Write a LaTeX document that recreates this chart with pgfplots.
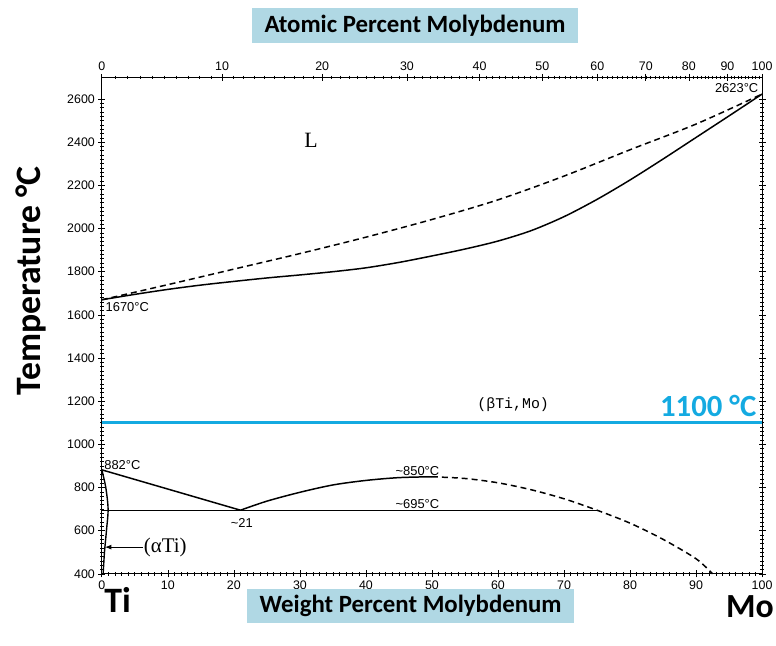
\documentclass[border=0pt]{standalone}
\usepackage{pgfplots}
\pgfplotsset{compat=1.18}
\usepackage{fontspec}
\setmainfont{Liberation Sans}
\newfontfamily\calib{Carlito}
\newfontfamily\serifm{Liberation Serif}
\newfontfamily\monof{Liberation Mono}
\usetikzlibrary{arrows.meta}
\definecolor{hl}{RGB}{20,170,225}
\definecolor{boxb}{RGB}{176,216,228}
\begin{document}
\xdef\atminor{0}
\foreach \a in {1,...,99}{\pgfmathparse{2.0044*\a/(1+0.010044*\a)}\xdef\atminor{\atminor,\pgfmathresult}}
\begin{tikzpicture}
\begin{axis}[name=main, scale only axis, width=665pt, height=500pt,
  xmin=0, xmax=100, ymin=400, ymax=2700,
  xtick={0,10,...,100}, ytick={400,600,...,2600},
  minor x tick num=9, minor y tick num=9,
  xtick pos=bottom, ytick pos=both, yticklabel pos=left,
  tick align=center, major tick length=7pt, minor tick length=3.5pt,
  axis line style={line width=1.2pt},
  every tick/.style={black, line width=0.7pt},
  ticklabel style={font=\fontsize{12.5}{13}\selectfont},
  /pgf/number format/assume math mode=true,
  /pgf/number format/1000 sep={},
  clip=false]
% liquidus (dashed)
\addplot[black, line width=1.5pt, dash pattern=on 6pt off 4pt, smooth] coordinates {
 (0,1670)(10,1740)(20,1812)(30,1884)(40,1960)(50,2042)(60,2133)(70,2243)(80,2365)(90,2484)(100,2623)};
% solidus
\addplot[black, line width=1.5pt, smooth] coordinates {
 (0,1670)(5,1695)(10,1718)(15,1738)(20,1755)(25,1771)(30,1785)(35,1800)(40,1818)(45,1843)(50,1873)(55,1905)(60,1942)(65,1990)(70,2055)(75,2135)(80,2225)(85,2322)(90,2422)(95,2522)(100,2623)};
% 1100 line
\addplot[hl, line width=3pt] coordinates {(0,1100)(100,1100)};
% beta transus
\addplot[black, line width=1.5pt] coordinates {(0,882)(10,793)(21,695)};
% miscibility gap solid
\addplot[black, line width=1.5pt, smooth] coordinates {
 (21,695)(25,737)(30,778)(35,812)(40,833)(45,846)(50,850)};
% miscibility gap dashed
\addplot[black, line width=1.5pt, dash pattern=on 6pt off 4pt, smooth] coordinates {
 (50,850)(55,842)(60,822)(65,790)(70,748)(75,695)(80,635)(85,560)(90,470)(92.5,400)};
% monotectoid horizontal
\addplot[black, line width=1.2pt] coordinates {(0,695)(75,695)};
% alpha solvus
\addplot[black, line width=1.4pt, smooth] coordinates {
 (0,882)(0.6,800)(0.95,700)(0.7,600)(0.4,500)(0.2,400)};
% arrow
\addplot[black, line width=1.2pt, -{Latex[length=7pt,width=5pt]}] coordinates {(6.2,524)(0.4,524)};
\node[anchor=west, inner sep=1pt, font=\serifm\fontsize{21}{24}\selectfont] at (axis cs:6.2,524) {(αTi)};
\node[font=\serifm\fontsize{22}{24}\selectfont] at (axis cs:31.7,2409) {L};
\node[font=\monof\fontsize{15}{16}\selectfont] at (axis cs:62.3,1183) {(βTi,Mo)};
\node[anchor=east, inner sep=1pt, text=hl, font=\calib\bfseries\fontsize{31}{34}\selectfont] at (axis cs:99.3,1176) {1100 °C};
\node[anchor=west, inner sep=1pt, font=\fontsize{13}{14}\selectfont] at (axis cs:0.4,1638) {1670°C};
\node[anchor=east, inner sep=1pt, font=\fontsize{13}{14}\selectfont] at (axis cs:99.6,2652) {2623°C};
\node[anchor=west, inner sep=1pt, font=\fontsize{13}{14}\selectfont] at (axis cs:0.2,905) {882°C};
\node[font=\fontsize{13}{14}\selectfont] at (axis cs:21.2,638) {\textasciitilde 21};
\node[anchor=south, inner sep=1pt, font=\fontsize{13}{14}\selectfont] at (axis cs:47.8,850) {\textasciitilde 850°C};
\node[anchor=south, inner sep=1pt, font=\fontsize{13}{14}\selectfont] at (axis cs:47.8,695) {\textasciitilde 695°C};
\end{axis}
\begin{axis}[scale only axis, width=665pt, height=500pt,
  at={(main.south west)}, anchor=south west,
  xmin=0, xmax=100, ymin=0, ymax=1,
  axis x line*=top, hide y axis,
  xtick={0,18.21,33.38,46.21,57.20,66.72,75.04,82.39,88.91,94.75,100},
  xticklabels={0,10,20,30,40,50,60,70,80,90,100},
  minor xtick=\atminor,
  tick align=center, major tick length=7pt, minor tick length=3.5pt,
  axis line style={line width=1.2pt},
  every tick/.style={black, line width=0.7pt},
  ticklabel style={font=\fontsize{12.5}{13}\selectfont}]
\addplot[draw=none] coordinates {(0,0)(100,1)};
\end{axis}
\coordinate (O) at (main.south west);
\node[rotate=90, font=\calib\bfseries\fontsize{36}{40}\selectfont] at ([shift={(-71pt,295pt)}]O) {Temperature °C};
\node[font=\calib\bfseries\fontsize{36}{40}\selectfont] at ([shift={(16pt,-26pt)}]O) {Ti};
\node[anchor=east, inner sep=0pt, font=\calib\bfseries\fontsize{34}{36}\selectfont] at ([shift={(677pt,-33pt)}]O) {Mo};
\node[fill=boxb, inner xsep=12.5pt, minimum height=35pt, font=\calib\bfseries\fontsize{25}{28}\selectfont] at ([shift={(315.5pt,552.5pt)}]O) {Atomic Percent Molybdenum};
\node[fill=boxb, inner xsep=12.5pt, minimum height=34pt, font=\calib\bfseries\fontsize{25}{28}\selectfont] at ([shift={(311pt,-32pt)}]O) {Weight Percent Molybdenum};
\pgfresetboundingbox
\path[use as bounding box] ([shift={(-97pt,-72pt)}]O) rectangle ([shift={(679pt,578pt)}]O);
\end{tikzpicture}
\end{document}
